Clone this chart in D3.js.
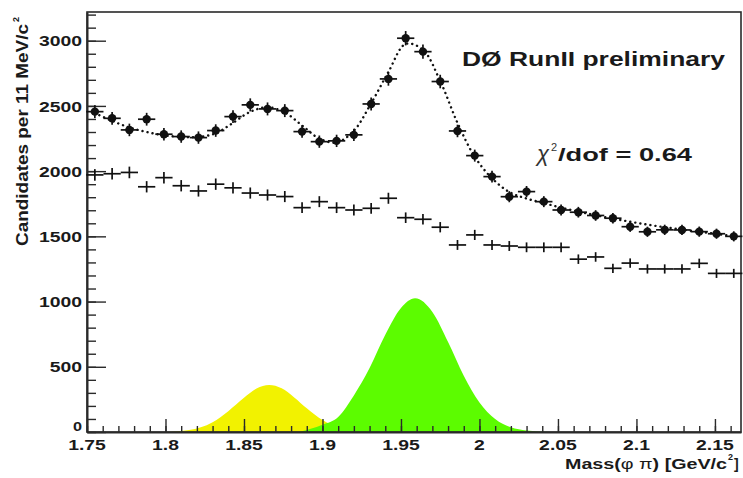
<!DOCTYPE html>
<html>
<head>
<meta charset="utf-8">
<script src="https://cdn.jsdelivr.net/npm/d3@7"></script>
<style>
  html, body { margin: 0; padding: 0; background: #fff; }
  svg { display: block; font-family: "Liberation Sans", Arial, Helvetica, sans-serif; }
</style>
</head>
<body>
<svg id="chart" width="743" height="478"></svg>
<script>
// Bin centres of the 11 MeV/c^2 mass histogram (GeV/c^2)
const massBins = [1.755, 1.766, 1.777, 1.788, 1.799, 1.810, 1.821, 1.832, 1.843, 1.854,
                  1.865, 1.876, 1.887, 1.898, 1.909, 1.920, 1.931, 1.942, 1.953, 1.964,
                  1.975, 1.986, 1.997, 2.008, 2.019, 2.030, 2.041, 2.052, 2.063, 2.074,
                  2.085, 2.096, 2.107, 2.118, 2.129, 2.140, 2.151, 2.162];

// Signal-region candidates (filled markers)
const signalCandidates = [2456, 2405, 2316, 2398, 2283, 2265, 2257, 2311, 2418, 2508,
                          2477, 2464, 2303, 2226, 2232, 2278, 2515, 2707, 3019, 2916,
                          2687, 2308, 2119, 1958, 1804, 1843, 1766, 1702, 1685, 1660,
                          1639, 1574, 1535, 1550, 1549, 1536, 1520, 1500];

// Side-band candidates (open crosses)
const sidebandCandidates = [1971, 1980, 1990, 1880, 1950, 1888, 1848, 1900, 1872, 1832,
                            1817, 1805, 1720, 1766, 1720, 1702, 1715, 1792, 1643, 1631,
                            1570, 1434, 1511, 1434, 1426, 1416, 1416, 1416, 1325, 1342,
                            1255, 1295, 1250, 1250, 1250, 1293, 1216, 1216];

// Fit result evaluated at the bin centres
const fitValues = [2445, 2385, 2335, 2300, 2275, 2262, 2262, 2290, 2370, 2455,
                   2490, 2450, 2350, 2250, 2220, 2310, 2520, 2760, 2975, 2930,
                   2690, 2370, 2110, 1945, 1840, 1790, 1755, 1720, 1690, 1662,
                   1636, 1612, 1590, 1570, 1552, 1535, 1518, 1502];

// D+ -> phi pi signal component
const dplusMass   = [1.800, 1.815, 1.830, 1.840, 1.850, 1.858, 1.866, 1.874, 1.882, 1.890, 1.900, 1.910, 1.920, 1.932];
const dplusSignal = [0, 15, 75, 160, 262, 333, 360, 335, 265, 182, 92, 36, 10, 0];

// Ds -> phi pi signal component
const dsMass   = [1.885, 1.900, 1.910, 1.920, 1.930, 1.940, 1.950, 1.959, 1.970, 1.980, 1.990, 2.000, 2.010, 2.020, 2.030, 2.045];
const dsSignal = [0, 55, 115, 280, 490, 745, 950, 1025, 920, 690, 432, 226, 100, 36, 11, 0];

// Axis ticks
const xTickValues = [1.75, 1.80, 1.85, 1.90, 1.95, 2.00, 2.05, 2.10, 2.15];
const xTickLabels = ["1.75", "1.8", "1.85", "1.9", "1.95", "2", "2.05", "2.1", "2.15"];
const yTickValues = [0, 500, 1000, 1500, 2000, 2500, 3000];
const yTickLabels = ["0", "500", "1000", "1500", "2000", "2500", "3000"];

const binWidth = 0.011;

const svg = d3.select("#chart");
const x = d3.scaleLinear().domain([1.75, 2.1666]).range([87, 741]);
const y = d3.scaleLinear().domain([0, 3220]).range([432, 12]);

const axisColor = "#2a2a2a";
const ink = "#111";

// Signal shapes
const area = d3.area()
  .x(d => x(d[0]))
  .y0(y(0))
  .y1(d => y(d[1]))
  .curve(d3.curveMonotoneX);

svg.append("path")
  .datum(d3.zip(dplusMass, dplusSignal))
  .attr("d", area)
  .attr("fill", "#f2f200");

svg.append("path")
  .datum(d3.zip(dsMass, dsSignal))
  .attr("d", area)
  .attr("fill", "#5cfc00");

// Frame
svg.append("rect")
  .attr("x", x.range()[0]).attr("y", y.range()[1])
  .attr("width", x.range()[1] - x.range()[0])
  .attr("height", y.range()[0] - y.range()[1])
  .attr("fill", "none")
  .attr("stroke", axisColor)
  .attr("stroke-width", 1.6);

// Bottom axis: major and minor ticks pointing inwards
svg.append("g")
  .attr("transform", `translate(0,${y(0)})`)
  .call(d3.axisTop(x).tickValues(xTickValues).tickSize(13).tickSizeOuter(0).tickFormat(""));
const xMinor = svg.append("g")
  .attr("transform", `translate(0,${y(0)})`)
  .call(d3.axisTop(x).tickValues(x.ticks(40)).tickSize(6).tickSizeOuter(0).tickFormat(""));
xMinor.select(".domain").remove();

// Left axis: major and minor ticks pointing inwards
svg.append("g")
  .attr("transform", `translate(${x(1.75)},0)`)
  .call(d3.axisRight(y).tickValues(yTickValues).tickSize(19).tickSizeOuter(0).tickFormat(""));
const yMinor = svg.append("g")
  .attr("transform", `translate(${x(1.75)},0)`)
  .call(d3.axisRight(y).tickValues(y.ticks(32)).tickSize(9).tickSizeOuter(0).tickFormat(""));
yMinor.select(".domain").remove();

svg.selectAll(".tick line").attr("stroke", axisColor).attr("stroke-width", 1.4);
svg.selectAll(".domain").attr("stroke", axisColor).attr("stroke-width", 2);

// Tick labels
svg.append("g").selectAll("text")
  .data(d3.zip(xTickValues, xTickLabels))
  .join("text")
  .attr("transform", d => `translate(${x(d[0])},450) scale(1.25,1)`)
  .attr("text-anchor", "middle")
  .attr("font-size", 15.5)
  .attr("font-weight", "bold")
  .attr("fill", "#1a1a1a")
  .text(d => d[1]);

// the zero label sits a little higher so it clears the first mass label
svg.append("g").selectAll("text")
  .data(d3.zip(yTickValues, yTickLabels))
  .join("text")
  .attr("transform", d => `translate(82,${y(d[0]) - (d[0] === 0 ? 6 : 0)}) scale(1.25,1)`)
  .attr("text-anchor", "end")
  .attr("dy", "0.36em")
  .attr("font-size", d => d[0] === 0 ? 13 : 15.5)
  .attr("font-weight", "bold")
  .attr("fill", "#1a1a1a")
  .text(d => d[1]);

// Fit curve (dotted)
svg.append("path")
  .datum(d3.zip(massBins, fitValues))
  .attr("d", d3.line().x(d => x(d[0])).y(d => y(d[1])).curve(d3.curveCatmullRom))
  .attr("fill", "none")
  .attr("stroke", ink)
  .attr("stroke-width", 2.4)
  .attr("stroke-linecap", "round")
  .attr("stroke-dasharray", "0.1,5");

// Error-bar crosses
function drawPoints(values, withDot) {
  const g = svg.append("g").attr("stroke", ink).attr("stroke-width", 1.7);
  const pts = g.selectAll("g").data(d3.zip(massBins, values)).join("g");
  pts.append("line")
    .attr("x1", d => x(d[0] - binWidth / 2)).attr("x2", d => x(d[0] + binWidth / 2))
    .attr("y1", d => y(d[1])).attr("y2", d => y(d[1]));
  pts.append("line")
    .attr("x1", d => x(d[0])).attr("x2", d => x(d[0]))
    .attr("y1", d => y(d[1] - Math.sqrt(d[1]))).attr("y2", d => y(d[1] + Math.sqrt(d[1])));
  if (withDot) {
    pts.append("circle")
      .attr("cx", d => x(d[0])).attr("cy", d => y(d[1]))
      .attr("r", 4.2).attr("fill", ink).attr("stroke", "none");
  }
}
drawPoints(sidebandCandidates, false);
drawPoints(signalCandidates, true);

// Labels inside the frame
svg.append("text")
  .attr("x", 462).attr("y", 66)
  .attr("font-size", 21).attr("font-weight", "bold").attr("fill", "#1a1a1a")
  .attr("textLength", 263).attr("lengthAdjust", "spacingAndGlyphs")
  .text("DØ RunII preliminary");

svg.append("text")
  .attr("x", 537).attr("y", 161)
  .attr("font-size", 22).attr("font-style", "italic").attr("fill", "#333")
  .text("χ");
svg.append("text")
  .attr("x", 551).attr("y", 151)
  .attr("font-size", 11).attr("fill", "#333")
  .text("2");
svg.append("text")
  .attr("x", 558).attr("y", 161)
  .attr("font-size", 19).attr("font-weight", "bold").attr("fill", "#1a1a1a")
  .attr("textLength", 134).attr("lengthAdjust", "spacingAndGlyphs")
  .text("/dof = 0.64");

// X axis title
const xTitle = svg.append("text")
  .attr("x", 565).attr("y", 469)
  .attr("font-size", 14).attr("font-weight", "bold").attr("fill", "#1a1a1a")
  .attr("textLength", 162).attr("lengthAdjust", "spacingAndGlyphs");
xTitle.append("tspan").text("Mass(");
xTitle.append("tspan").attr("font-weight", "normal").text("φ π");
xTitle.append("tspan").text(") [GeV/c");
svg.append("text")
  .attr("x", 728).attr("y", 460)
  .attr("font-size", 9).attr("font-weight", "bold").attr("fill", "#1a1a1a")
  .text("2");
svg.append("text")
  .attr("x", 734).attr("y", 469)
  .attr("font-size", 14).attr("font-weight", "bold").attr("fill", "#1a1a1a")
  .text("]");

// Y axis title
svg.append("text")
  .attr("transform", "translate(28,246) rotate(-90) scale(1,1.15)")
  .attr("font-size", 14).attr("font-weight", "bold").attr("fill", "#1a1a1a")
  .attr("textLength", 222).attr("lengthAdjust", "spacingAndGlyphs")
  .text("Candidates per 11 MeV/c");
svg.append("text")
  .attr("transform", "translate(19,22) rotate(-90)")
  .attr("font-size", 9).attr("font-weight", "bold").attr("fill", "#1a1a1a")
  .text("2");
</script>
</body>
</html>
